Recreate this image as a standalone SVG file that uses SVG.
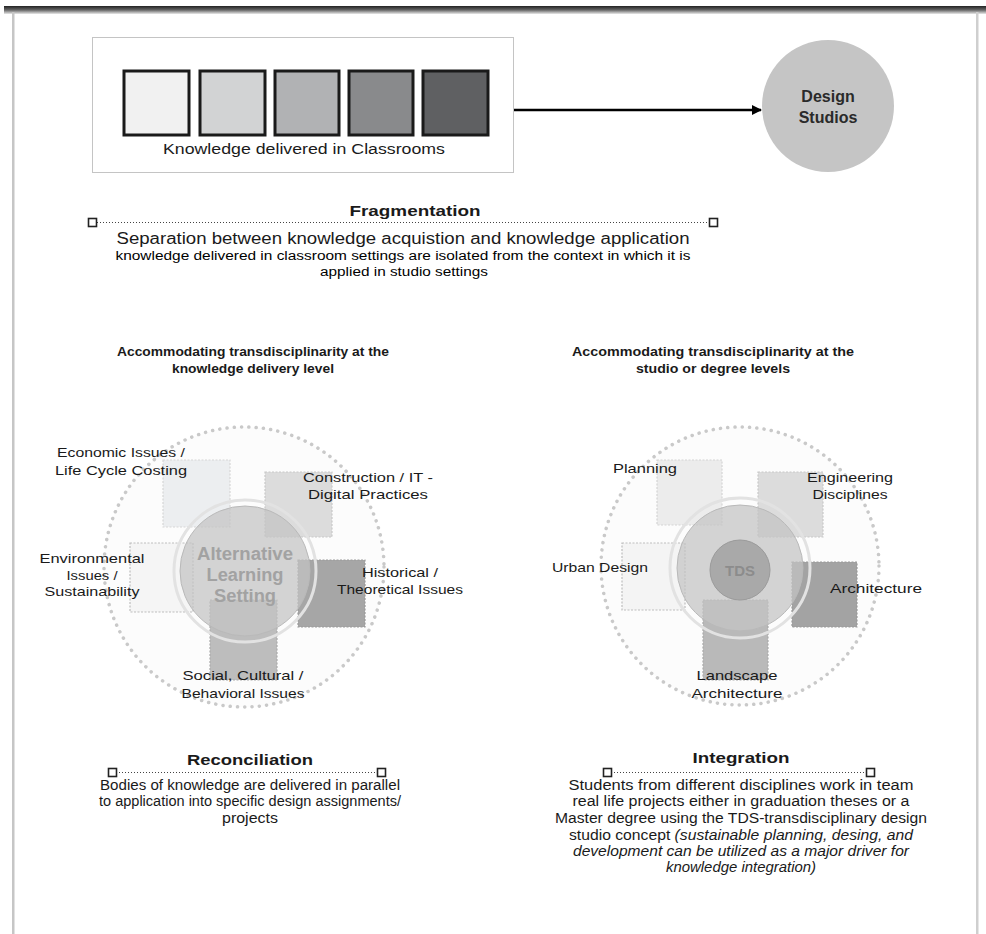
<svg xmlns="http://www.w3.org/2000/svg" width="986" height="934" viewBox="0 0 986 934">
<defs>
<linearGradient id="topbar" x1="0" y1="0" x2="0" y2="1">
<stop offset="0" stop-color="#222"/><stop offset="0.5" stop-color="#666"/><stop offset="1" stop-color="#e8e8e8"/>
</linearGradient>
<marker id="arrow" viewBox="0 0 10 10" refX="9" refY="5" markerWidth="4" markerHeight="4" orient="auto" markerUnits="strokeWidth">
<path d="M0,0 L10,5 L0,10 z" fill="#000"/>
</marker>
<style>
text{font-family:"Liberation Sans",Arial,sans-serif;fill:#1a1a1a;text-anchor:middle}
.lbl{font-size:13px}
.body{font-size:14px}
.ttl{font-size:15px;font-weight:bold}
.hd{font-size:13px;font-weight:bold}
.ghost{font-size:18px;font-weight:bold;fill:#a2a2a2}
.sq{stroke:#1a1a1a;stroke-width:3}
.dotc{fill:#fcfcfc;stroke:#c9c9c9;stroke-width:3.5;stroke-linecap:round;stroke-dasharray:0.1 7.2}
.tile{stroke-width:1.2;stroke-dasharray:2 1.5}
.mid{fill:#c4c4c4;fill-opacity:0.72;stroke:#b9b9b9;stroke-width:1}
.halo{fill:none;stroke:#e2e2e2;stroke-width:3}
.dl{stroke:#444;stroke-width:1;stroke-dasharray:1 2}
.mk{fill:#fff;stroke:#222;stroke-width:1.6}
</style>
</defs>
<rect width="986" height="934" fill="#fff"/>
<g id="frame">
<rect x="4" y="6" width="982" height="8" fill="url(#topbar)"/>
<rect x="12" y="12" width="2.5" height="922" fill="#c6c6c6"/>
<rect x="976" y="12" width="2.5" height="922" fill="#cfcfcf"/>
</g>

<g id="classrooms">
<rect x="92.5" y="37.5" width="421" height="135" fill="#fff" stroke="#c4c4c4"/>
<rect class="sq" x="124" y="71" width="65" height="64" fill="#f1f1f1"/>
<rect class="sq" x="200" y="71" width="65" height="64" fill="#d2d3d4"/>
<rect class="sq" x="275" y="71" width="64" height="64" fill="#b1b2b4"/>
<rect class="sq" x="349" y="71" width="64" height="64" fill="#898a8c"/>
<rect class="sq" x="423" y="71" width="65" height="64" fill="#5f6062"/>
<text class="body" x="304" y="154" textLength="282" lengthAdjust="spacingAndGlyphs">Knowledge delivered in Classrooms</text>
</g>

<g id="studios">
<circle cx="828" cy="106" r="66" fill="#c5c5c5"/>
<text class="ttl" x="828" y="102" style="fill:#2a2a2a;font-size:16px">Design</text>
<text class="ttl" x="828" y="123" style="fill:#2a2a2a;font-size:16px">Studios</text>
</g>

<g id="connectors">
<line x1="514" y1="110" x2="761" y2="110" stroke="#000" stroke-width="2.5" marker-end="url(#arrow)"/>
</g>

<g id="fragmentation">
<text class="ttl" x="415" y="216" textLength="131" lengthAdjust="spacingAndGlyphs">Fragmentation</text>
<line class="dl" x1="97" y1="222.5" x2="709" y2="222.5"/>
<rect class="mk" x="88.5" y="218.5" width="8" height="8"/>
<rect class="mk" x="709.5" y="218.5" width="8" height="8"/>
<text x="403" y="244" font-size="16" textLength="573" lengthAdjust="spacingAndGlyphs">Separation between knowledge acquistion and knowledge application</text>
<text x="403" y="260" font-size="12.5" style="fill:#000" textLength="575" lengthAdjust="spacingAndGlyphs">knowledge delivered in classroom settings are isolated from the context in which it is</text>
<text x="404" y="276" font-size="12.5" style="fill:#000" textLength="168" lengthAdjust="spacingAndGlyphs">applied in studio settings</text>
</g>

<g id="left-title">
<text class="hd" x="253" y="356" textLength="272" lengthAdjust="spacingAndGlyphs">Accommodating transdisciplinarity at the</text>
<text class="hd" x="253" y="373" textLength="162" lengthAdjust="spacingAndGlyphs">knowledge delivery level</text>
</g>
<g id="right-title">
<text class="hd" x="713" y="356" textLength="282" lengthAdjust="spacingAndGlyphs">Accommodating transdisciplinarity at the</text>
<text class="hd" x="713" y="373" textLength="154" lengthAdjust="spacingAndGlyphs">studio or degree levels</text>
</g>

<g id="left-diagram">
<circle class="dotc" cx="244" cy="567" r="140"/>
<rect class="tile" x="163" y="460" width="67" height="67" fill="#eceef0" stroke="#d6d6d6"/>
<rect class="tile" x="265" y="472" width="67" height="65" fill="#dcdcdc" stroke="#c8c8c8"/>
<rect class="tile" x="130" y="543" width="63" height="69" fill="#f5f5f5" stroke="#bdbdbd"/>
<rect class="tile" x="298" y="560" width="67" height="67" fill="#a6a6a6" stroke="#999"/>
<rect class="tile" x="210" y="600" width="67" height="80" fill="#bdbdbd" stroke="#aaa"/>
<circle class="halo" cx="245" cy="571" r="71"/>
<circle class="mid" cx="245" cy="571" r="65"/>
<text class="ghost" x="245" y="560" textLength="96" lengthAdjust="spacingAndGlyphs">Alternative</text>
<text class="ghost" x="245" y="581" textLength="77" lengthAdjust="spacingAndGlyphs">Learning</text>
<text class="ghost" x="245" y="602" textLength="62" lengthAdjust="spacingAndGlyphs">Setting</text>
<text class="lbl" x="121" y="457" textLength="128" lengthAdjust="spacingAndGlyphs">Economic Issues /</text>
<text class="lbl" x="121" y="475" textLength="132" lengthAdjust="spacingAndGlyphs">Life Cycle Costing</text>
<text class="lbl" x="368" y="482" textLength="130" lengthAdjust="spacingAndGlyphs">Construction / IT -</text>
<text class="lbl" x="368" y="499" textLength="120" lengthAdjust="spacingAndGlyphs">Digital Practices</text>
<text class="lbl" x="92" y="563" textLength="105" lengthAdjust="spacingAndGlyphs">Environmental</text>
<text class="lbl" x="92" y="580" textLength="51" lengthAdjust="spacingAndGlyphs">Issues /</text>
<text class="lbl" x="92" y="596" textLength="95" lengthAdjust="spacingAndGlyphs">Sustainability</text>
<text class="lbl" x="400" y="577" textLength="76" lengthAdjust="spacingAndGlyphs">Historical /</text>
<text class="lbl" x="400" y="594" textLength="126" lengthAdjust="spacingAndGlyphs">Theoretical Issues</text>
<text class="lbl" x="243" y="680" textLength="121" lengthAdjust="spacingAndGlyphs">Social, Cultural /</text>
<text class="lbl" x="243" y="698" textLength="123" lengthAdjust="spacingAndGlyphs">Behavioral Issues</text>
</g>

<g id="right-diagram">
<circle class="dotc" cx="740" cy="566" r="139"/>
<rect class="tile" x="657" y="460" width="65" height="65" fill="#ececec" stroke="#d4d4d4"/>
<rect class="tile" x="758" y="472" width="65" height="65" fill="#dcdcdc" stroke="#c8c8c8"/>
<rect class="tile" x="622" y="543" width="63" height="67" fill="#f4f4f4" stroke="#bdbdbd"/>
<rect class="tile" x="792" y="562" width="65" height="65" fill="#a3a3a3" stroke="#999"/>
<rect class="tile" x="703" y="600" width="65" height="80" fill="#b9b9b9" stroke="#aaa"/>
<circle class="halo" cx="740" cy="568" r="70"/>
<circle class="mid" cx="740" cy="568" r="63"/>
<circle cx="740" cy="570" r="30" fill="#a9a9a9" stroke="#9a9a9a"/>
<text x="740" y="576" style="font-size:15px;font-weight:bold;fill:#8c8c8c">TDS</text>
<text class="lbl" x="645" y="473" textLength="64" lengthAdjust="spacingAndGlyphs">Planning</text>
<text class="lbl" x="850" y="482" textLength="86" lengthAdjust="spacingAndGlyphs">Engineering</text>
<text class="lbl" x="850" y="499" textLength="75" lengthAdjust="spacingAndGlyphs">Disciplines</text>
<text class="lbl" x="600" y="572" textLength="96" lengthAdjust="spacingAndGlyphs">Urban Design</text>
<text class="lbl" x="876" y="593" textLength="92" lengthAdjust="spacingAndGlyphs">Architecture</text>
<text class="lbl" x="737" y="680" textLength="81" lengthAdjust="spacingAndGlyphs">Landscape</text>
<text class="lbl" x="737" y="698" textLength="91" lengthAdjust="spacingAndGlyphs">Architecture</text>
</g>

<g id="reconciliation">
<text class="ttl" x="250" y="765" textLength="126" lengthAdjust="spacingAndGlyphs">Reconciliation</text>
<line class="dl" x1="116" y1="772.5" x2="377" y2="772.5"/>
<rect class="mk" x="108.5" y="768.5" width="8" height="8"/>
<rect class="mk" x="377.5" y="768.5" width="8" height="8"/>
<text class="body" x="250" y="790" textLength="300" lengthAdjust="spacingAndGlyphs">Bodies of knowledge are delivered in parallel</text>
<text class="body" x="250" y="806" textLength="302" lengthAdjust="spacingAndGlyphs">to application into specific design assignments/</text>
<text class="body" x="250" y="823" textLength="56" lengthAdjust="spacingAndGlyphs">projects</text>
</g>

<g id="integration">
<text class="ttl" x="741" y="763" textLength="97" lengthAdjust="spacingAndGlyphs">Integration</text>
<line class="dl" x1="611" y1="772.5" x2="866" y2="772.5"/>
<rect class="mk" x="603.5" y="768.5" width="8" height="8"/>
<rect class="mk" x="866.5" y="768.5" width="8" height="8"/>
<text class="body" x="741" y="790" textLength="345" lengthAdjust="spacingAndGlyphs">Students from different disciplines work in team</text>
<text class="body" x="741" y="806" textLength="337" lengthAdjust="spacingAndGlyphs">real life projects either in graduation theses or a</text>
<text class="body" x="741" y="823" textLength="372" lengthAdjust="spacingAndGlyphs">Master degree using the TDS-transdisciplinary design</text>
<text class="body" x="741" y="840" textLength="344" lengthAdjust="spacingAndGlyphs">studio concept <tspan font-style="italic">(sustainable planning, desing, and</tspan></text>
<text class="body" x="741" y="856" font-style="italic" textLength="336" lengthAdjust="spacingAndGlyphs">development can be utilized as a major driver for</text>
<text class="body" x="741" y="872" font-style="italic" textLength="150" lengthAdjust="spacingAndGlyphs">knowledge integration)</text>
</g>
</svg>
